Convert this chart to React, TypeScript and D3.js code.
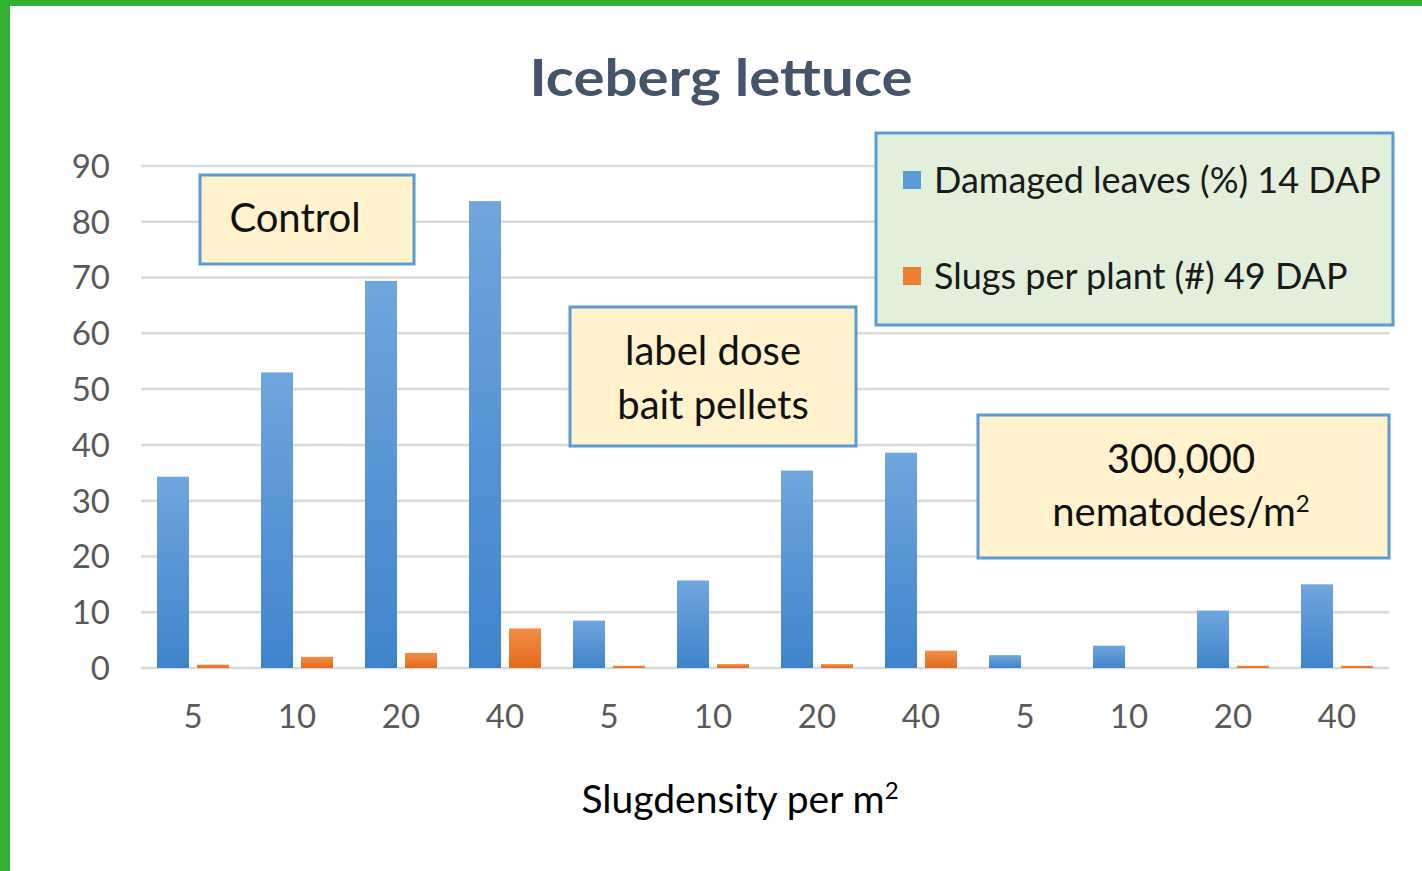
import React, { useEffect, useRef } from 'react';
import * as d3 from 'd3';

// slug density per m2, repeated for each treatment group
const categories = ['5', '10', '20', '40', '5', '10', '20', '40', '5', '10', '20', '40'];
const damagedLeaves = [34.3, 53, 69.4, 83.7, 8.5, 15.7, 35.4, 38.6, 2.3, 4, 10.3, 15];
const slugsPerPlant = [0.6, 2, 2.7, 7.1, 0.4, 0.7, 0.7, 3.1, 0, 0, 0.4, 0.4];
const yTicks = [0, 10, 20, 30, 40, 50, 60, 70, 80, 90];
const seriesNames = ['Damaged leaves (%) 14 DAP', 'Slugs per plant (#) 49 DAP'];

const W = 1422;
const H = 871;
const FONT = 'Lato, "Open Sans", sans-serif';

const App = () => {
  const ref = useRef<SVGSVGElement>(null);

  useEffect(() => {
    const svg = d3.select(ref.current);
    svg.selectAll('*').remove();

    const defs = svg.append('defs');
    const grad = (id: string, top: string, bottom: string) => {
      const g = defs.append('linearGradient').attr('id', id).attr('x1', 0).attr('y1', 0).attr('x2', 0).attr('y2', 1);
      g.append('stop').attr('offset', '0%').attr('stop-color', top);
      g.append('stop').attr('offset', '100%').attr('stop-color', bottom);
    };
    grad('gBlue', '#6fa6dd', '#3f84cb');
    grad('gOrange', '#f28e48', '#e36a1c');

    // background + green frame
    svg.append('rect').attr('width', W).attr('height', H).attr('fill', '#ffffff');
    svg.append('rect').attr('x', 0).attr('y', 0).attr('width', W).attr('height', 6).attr('fill', '#33af33');
    svg.append('rect').attr('x', 0).attr('y', 0).attr('width', 10).attr('height', H).attr('fill', '#33af33');

    const x = d3
      .scaleBand<number>()
      .domain(d3.range(categories.length))
      .range([141, 1389])
      .paddingInner(0)
      .paddingOuter(0);
    const inner = d3
      .scaleBand<number>()
      .domain([0, 1])
      .range([16, x.bandwidth() - 16])
      .paddingInner(0.2);
    const y = d3.scaleLinear().domain([0, 90]).range([668, 166]);

    // gridlines
    svg
      .append('g')
      .selectAll('line')
      .data(yTicks)
      .enter()
      .append('line')
      .attr('x1', 141)
      .attr('x2', 1389)
      .attr('y1', (d) => y(d))
      .attr('y2', (d) => y(d))
      .attr('stroke', '#d9d9d9')
      .attr('stroke-width', 2.5);

    // y tick labels
    svg
      .append('g')
      .selectAll('text')
      .data(yTicks)
      .enter()
      .append('text')
      .attr('x', 110)
      .attr('y', (d) => y(d))
      .attr('dy', '0.36em')
      .attr('text-anchor', 'end')
      .attr('font-family', FONT)
      .attr('font-size', 33)
      .attr('fill', '#595959')
      .text((d) => d);

    // x tick labels
    svg
      .append('g')
      .selectAll('text')
      .data(categories)
      .enter()
      .append('text')
      .attr('x', (_, i) => (x(i) as number) + x.bandwidth() / 2)
      .attr('y', 728)
      .attr('text-anchor', 'middle')
      .attr('font-family', FONT)
      .attr('font-size', 33)
      .attr('fill', '#595959')
      .text((d) => d);

    // bars
    const groups = svg
      .append('g')
      .selectAll('g')
      .data(categories.map((_, i) => [damagedLeaves[i], slugsPerPlant[i]]))
      .enter()
      .append('g')
      .attr('transform', (_, i) => `translate(${x(i)},0)`);
    groups
      .selectAll('rect')
      .data((d) => d)
      .enter()
      .append('rect')
      .attr('x', (_, j) => inner(j) as number)
      .attr('width', inner.bandwidth())
      .attr('y', (d) => y(d))
      .attr('height', (d) => y(0) - y(d))
      .attr('fill', (_, j) => (j === 0 ? 'url(#gBlue)' : 'url(#gOrange)'));

    // title
    svg
      .append('text')
      .attr('x', 721)
      .attr('y', 96)
      .attr('text-anchor', 'middle')
      .attr('font-family', FONT)
      .attr('font-weight', 700)
      .attr('font-size', 52)
      .attr('fill', '#44546a')
      .attr('textLength', 383)
      .attr('lengthAdjust', 'spacingAndGlyphs')
      .text('Iceberg lettuce');

    // axis title
    const xt = svg
      .append('text')
      .attr('x', 740)
      .attr('y', 813)
      .attr('text-anchor', 'middle')
      .attr('font-family', FONT)
      .attr('font-size', 39)
      .attr('fill', '#000000');
    xt.append('tspan').text('Slugdensity per m');
    xt.append('tspan').attr('font-size', 24).attr('dy', -14).text('2');

    // legend
    svg
      .append('rect')
      .attr('x', 876)
      .attr('y', 133)
      .attr('width', 517)
      .attr('height', 192)
      .attr('fill', '#e2efda')
      .attr('stroke', '#5b9bd5')
      .attr('stroke-width', 3);
    const legendColors = ['#5b9bd5', '#ed7d31'];
    seriesNames.forEach((name, i) => {
      const cy = 180 + i * 96;
      svg
        .append('rect')
        .attr('x', 903)
        .attr('y', cy - 9)
        .attr('width', 18)
        .attr('height', 18)
        .attr('fill', legendColors[i]);
      svg
        .append('text')
        .attr('x', 934)
        .attr('y', cy)
        .attr('dy', '0.35em')
        .attr('font-family', FONT)
        .attr('font-size', 36)
        .attr('fill', '#1a1a1a')
        .text(name);
    });

    // annotation boxes (cx = text centre)
    const boxes = [
      { x: 200, y: 175, w: 214, h: 89, cx: 295, lines: ['Control'], ys: [218] },
      { x: 570, y: 307, w: 286, h: 139, cx: 713, lines: ['label dose', 'bait pellets'], ys: [351, 405] },
      { x: 978, y: 415, w: 411, h: 143, cx: 1181, lines: ['300,000', 'nematodes/m'], ys: [459, 512] },
    ];
    boxes.forEach((b) => {
      svg
        .append('rect')
        .attr('x', b.x)
        .attr('y', b.y)
        .attr('width', b.w)
        .attr('height', b.h)
        .attr('fill', '#fff2cc')
        .attr('stroke', '#5b9bd5')
        .attr('stroke-width', 3);
      b.lines.forEach((line, k) => {
        const t = svg
          .append('text')
          .attr('x', b.cx)
          .attr('y', b.ys[k])
          .attr('dy', '0.35em')
          .attr('text-anchor', 'middle')
          .attr('font-family', FONT)
          .attr('font-size', 40)
          .attr('fill', '#111111');
        t.append('tspan').text(line);
        if (line === 'nematodes/m') {
          t.append('tspan').attr('font-size', 24).attr('dy', -14).text('2');
        }
      });
    });
  }, []);

  return (
    <svg
      ref={ref}
      width={W}
      height={H}
      style={{ position: 'absolute', left: 0, top: 0, display: 'block' }}
    />
  );
};

export default App;
